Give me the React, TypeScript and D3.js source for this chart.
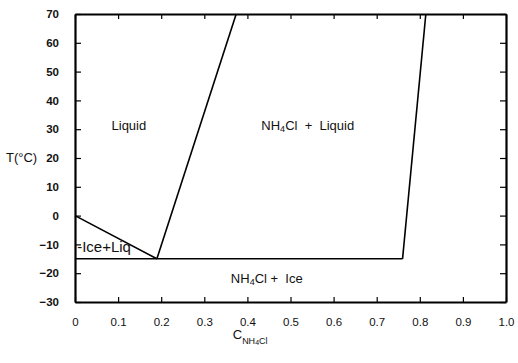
import React, { useEffect, useRef } from 'react';
import * as d3 from 'd3';

// phase boundaries of the NH4Cl - water system
const iceLiquidus: [number, number][] = [[0, 0], [0.19, -15]];
const saltLiquidus: [number, number][] = [[0.19, -15], [0.374, 70]];
const eutectic: [number, number][] = [[0, -15], [0.76, -15]];
const solidLine: [number, number][] = [[0.76, -15], [0.814, 70]];

const xTicks = [0, 0.1, 0.2, 0.3, 0.4, 0.5, 0.6, 0.7, 0.8, 0.9, 1.0];
const yTicks = [-30, -20, -10, 0, 10, 20, 30, 40, 50, 60, 70];

const width = 518;
const height = 363;
const margin = { top: 14, right: 12, bottom: 61, left: 75 };
const font = "'Liberation Sans', Arial, sans-serif";

function App() {
  const ref = useRef<SVGSVGElement>(null);

  useEffect(() => {
    const svg = d3.select(ref.current);
    svg.selectAll('*').remove();

    const x = d3.scaleLinear().domain([0, 1]).range([margin.left, width - margin.right]);
    const y = d3.scaleLinear().domain([-30, 70]).range([height - margin.bottom, margin.top]);

    const fmtX = (d: number) => (d === 0 ? '0' : d3.format('.1f')(d));

    // bottom axis, ticks point inward
    svg.append('g')
      .attr('transform', `translate(0,${y(-30)})`)
      .call(d3.axisBottom(x).tickValues(xTicks).tickFormat(fmtX as any).tickSizeInner(-5).tickSizeOuter(0).tickPadding(16))
      .call(g => g.select('.domain').attr('stroke-width', 2.2))
      .call(g => g.selectAll('.tick line').attr('stroke-width', 1.2))
      .call(g => g.selectAll('text').attr('font-family', font).attr('font-size', 11.5).attr('fill', '#111'));

    // top axis, no labels
    svg.append('g')
      .attr('transform', `translate(0,${y(70)})`)
      .call(d3.axisTop(x).tickValues(xTicks).tickFormat(() => '').tickSizeInner(-5).tickSizeOuter(0))
      .call(g => g.select('.domain').attr('stroke-width', 2.2))
      .call(g => g.selectAll('.tick line').attr('stroke-width', 1.2));

    // left axis
    svg.append('g')
      .attr('transform', `translate(${x(0)},0)`)
      .call(d3.axisLeft(y).tickValues(yTicks).tickFormat(d3.format('d') as any).tickSizeInner(-6).tickSizeOuter(0).tickPadding(16))
      .call(g => g.select('.domain').attr('stroke-width', 2.2))
      .call(g => g.selectAll('.tick line').attr('stroke-width', 1.2))
      .call(g => g.selectAll('text').attr('font-family', font).attr('font-size', 11.5).attr('font-weight', 'bold').attr('fill', '#111')
        .text((d: any) => (d < 0 ? '\u2212' + Math.abs(d) : String(d))));

    // right axis, no labels
    svg.append('g')
      .attr('transform', `translate(${x(1)},0)`)
      .call(d3.axisRight(y).tickValues(yTicks).tickFormat(() => '').tickSizeInner(-6).tickSizeOuter(0))
      .call(g => g.select('.domain').attr('stroke-width', 2.2))
      .call(g => g.selectAll('.tick line').attr('stroke-width', 1.2));

    const line = d3.line<[number, number]>().x(d => x(d[0])).y(d => y(d[1]));
    [iceLiquidus, saltLiquidus, eutectic, solidLine].forEach(pts => {
      svg.append('path')
        .attr('d', line(pts))
        .attr('fill', 'none')
        .attr('stroke', '#000')
        .attr('stroke-width', 1.6);
    });

    const label = (tx: number, ty: number, anchor = 'middle') =>
      svg.append('text')
        .attr('x', tx).attr('y', ty)
        .attr('text-anchor', anchor)
        .attr('font-family', font)
        .attr('font-size', 13)
        .attr('fill', '#111')
        .style('white-space', 'pre');

    label(x(0.125), y(31) + 4).text('Liquid');

    const t1 = label(x(0.54), y(31) + 4);
    t1.append('tspan').text('NH');
    t1.append('tspan').attr('font-size', 9).attr('dy', 2).text('4');
    t1.append('tspan').attr('dy', -2).text('Cl  +  Liquid');

    const t2 = label(x(0.445), y(-22) + 4);
    t2.append('tspan').text('NH');
    t2.append('tspan').attr('font-size', 9).attr('dy', 2).text('4');
    t2.append('tspan').attr('dy', -2).text('Cl +  Ice');

    label(x(0.005), y(-11) + 5, 'start').attr('font-size', 15).text('-Ice+Liq');

    // y axis title
    svg.append('text')
      .attr('x', 6).attr('y', y(20) + 4)
      .attr('font-family', font).attr('font-size', 13).attr('fill', '#111')
      .text('T(\u00B0C)');

    // x axis title with subscript
    const xt = svg.append('text')
      .attr('x', x(0.366)).attr('y', 339)
      .attr('font-family', font).attr('font-size', 13).attr('fill', '#111');
    xt.append('tspan').text('C');
    xt.append('tspan').attr('font-size', 9).attr('dy', 5).text('NH');
    xt.append('tspan').attr('font-size', 7).attr('dy', 1).text('4');
    xt.append('tspan').attr('font-size', 9).attr('dy', -1).text('Cl');
  }, []);

  return (
    <svg ref={ref} width={width} height={height}
      style={{ position: 'absolute', left: 0, top: 0, background: '#fff' }} />
  );
}

export default App;
